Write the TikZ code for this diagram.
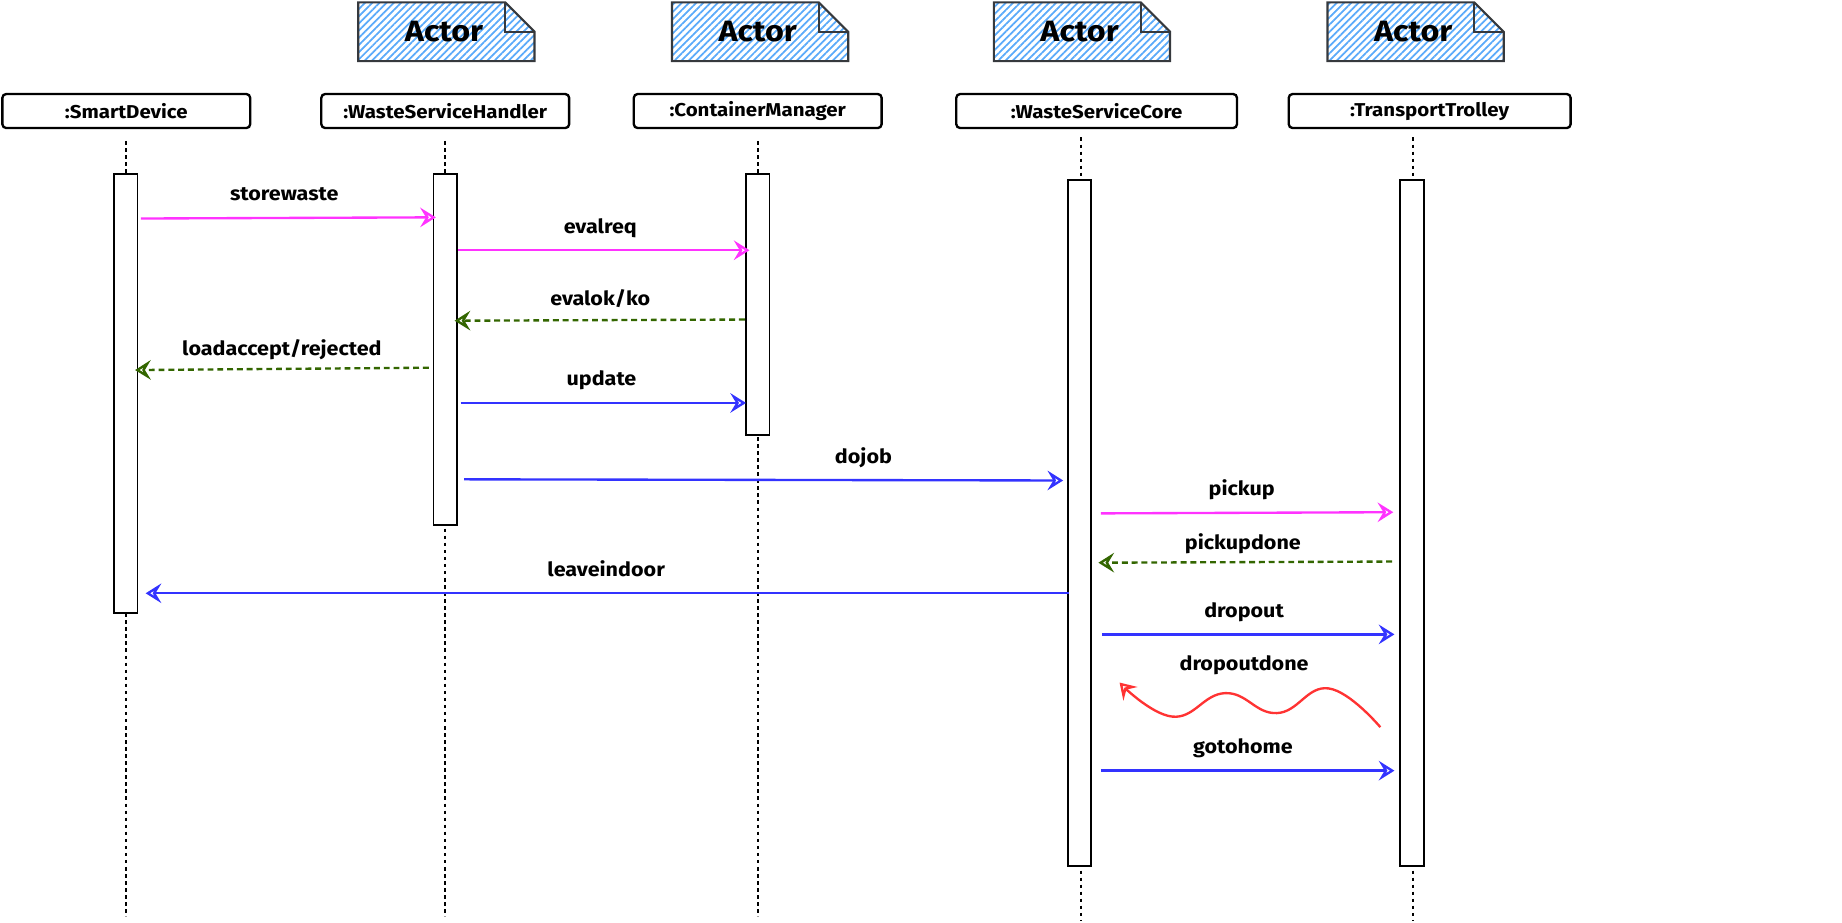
\documentclass[tikz,border=0pt]{standalone}
\usepackage{fontspec}
\setmainfont{Fira Sans}[FakeStretch=1.1]
\usetikzlibrary{arrows.meta,patterns.meta}
\definecolor{mag}{RGB}{255,51,255}
\definecolor{blu}{RGB}{51,51,255}
\definecolor{grn}{RGB}{51,102,0}
\definecolor{rd}{RGB}{255,51,51}
\definecolor{notefill}{RGB}{90,170,250}
\definecolor{notestroke}{RGB}{54,57,61}
\tikzset{
  hdr/.style={draw=black,line width=1.2pt,rounded corners=2pt,minimum width=126.6pt,minimum height=17.4pt,inner sep=0pt,font=\fontsize{9.5}{11}\selectfont\bfseries},
  notebox/.style={draw=notestroke,line width=1.1pt,pattern={Lines[angle=45,distance=2.6pt,line width=0.9pt]},pattern color=notefill},
  notetxt/.style={font=\fontsize{15}{18}\selectfont\bfseries},
  actbar/.style={draw=black,fill=white,line width=0.9pt,minimum width=12pt,inner sep=0pt},
  lifeline/.style={draw=black,line width=0.9pt,dash pattern=on 1.8pt off 1.8pt},
  msg/.style={line width=1.2pt,-{Stealth[open,length=8pt,width=10pt,inset=3pt,line width=1.2pt]}},
  ret/.style={msg,dash pattern=on 3pt off 2pt},
  lbl/.style={anchor=mid,font=\fontsize{10}{12}\selectfont\bfseries}
}
\begin{document}
\begin{tikzpicture}[x=0.6pt,y=-0.6pt]
\useasboundingbox (0,0) rectangle (1568,785);
% actor notes
\foreach \xa/\n in {305/1,572/2,846/3,1130/4}{
  \path[notebox] (\xa,2) -- ({\xa+125},2) -- ({\xa+150},27) -- ({\xa+150},52) -- (\xa,52) -- cycle;
  \draw[notestroke,line width=1.1pt] ({\xa+125},2) -- ({\xa+125},27) -- ({\xa+150},27);
  \node[notetxt] (act\n) at ({\xa+73},27) {Actor};
}
% headers
\node[hdr] (h1) at (107.5,94.5) {:SmartDevice};
\node[hdr] (h2) at (379,94.5) {:WasteServiceHandler};
\node[hdr] (h3) at (645,94.5) {:ContainerManager};
\node[hdr,minimum width=143.4pt] (h4) at (933.5,94.5) {:WasteServiceCore};
\node[hdr,minimum width=144pt] (h5) at (1217,94.5) {:TransportTrolley};
% lifeline ends
\coordinate (t1) at (107,120); \coordinate (e1) at (107,780);
\coordinate (t2) at (379,120); \coordinate (e2) at (379,780);
\coordinate (t3) at (645,120); \coordinate (e3) at (645,780);
\coordinate (t4) at (920,117); \coordinate (e4) at (920,784);
\coordinate (t5) at (1203,117); \coordinate (e5) at (1203,784);
\foreach \i in {1,...,5}{ \draw[lifeline] (t\i) -- (e\i); }
% activation bars
\node[actbar,minimum height=224.4pt] (b1) at (107,335) {};
\node[actbar,minimum height=179.4pt] (b2) at (379,297.5) {};
\node[actbar,minimum height=133.2pt] (b3) at (645,259) {};
\node[actbar,minimum height=350.4pt] (b4) at (919,445) {};
\node[actbar,minimum height=350.4pt] (b5) at (1202,445) {};
% message endpoints
\coordinate (m1a) at (120,186); \coordinate (m1b) at (371,185);
\coordinate (m2a) at (390,213); \coordinate (m2b) at (638,213);
\coordinate (m3a) at (634,272); \coordinate (m3b) at (387,273);
\coordinate (m4a) at (365,313); \coordinate (m4b) at (115,315);
\coordinate (m5a) at (392,343); \coordinate (m5b) at (635,343);
\coordinate (m6a) at (395,408); \coordinate (m6b) at (905,409);
\coordinate (m7a) at (937,437); \coordinate (m7b) at (1186,436);
\coordinate (m8a) at (1185,478); \coordinate (m8b) at (935,479);
\coordinate (m9a) at (910,505); \coordinate (m9b) at (124,505);
\coordinate (m10a) at (938,540); \coordinate (m10b) at (1187,540);
\coordinate (m12a) at (937,656); \coordinate (m12b) at (1187,656);
\draw[msg,mag] (m1a) -- (m1b);
\draw[msg,mag] (m2a) -- (m2b);
\draw[ret,grn] (m3a) -- (m3b);
\draw[ret,grn] (m4a) -- (m4b);
\draw[msg,blu] (m5a) -- (m5b);
\draw[msg,blu] (m6a) -- (m6b);
\draw[msg,mag] (m7a) -- (m7b);
\draw[ret,grn] (m8a) -- (m8b);
\draw[msg,blu] (m9a) -- (m9b);
\draw[msg,blu] (m10a) -- (m10b);
\draw[msg,blu] (m12a) -- (m12b);
% wavy dropoutdone
\coordinate (w0) at (1175,619);
\coordinate (w1) at (1131,586);
\coordinate (w2) at (1087,607);
\coordinate (w3) at (1043,590);
\coordinate (w4) at (998,610);
\coordinate (w5) at (953,581);
\draw[msg,rd] plot[smooth,tension=0.75] coordinates {(w0) (w1) (w2) (w3) (w4) (w5)};
% labels
\node[lbl] (l1) at (242,166) {storewaste};
\node[lbl] (l2) at (511,194) {evalreq};
\node[lbl] (l3) at (511,256) {evalok/ko};
\node[lbl] (l4) at (240,298) {loadaccept/rejected};
\node[lbl] (l5) at (512,324) {update};
\node[lbl] (l6) at (735,390) {dojob};
\node[lbl] (l7) at (1057,417) {pickup};
\node[lbl] (l8) at (1058,463) {pickupdone};
\node[lbl] (l9) at (516,486) {leaveindoor};
\node[lbl] (l10) at (1059,521) {dropout};
\node[lbl] (l11) at (1059,566) {dropoutdone};
\node[lbl] (l12) at (1058,637) {gotohome};
\end{tikzpicture}
\end{document}
